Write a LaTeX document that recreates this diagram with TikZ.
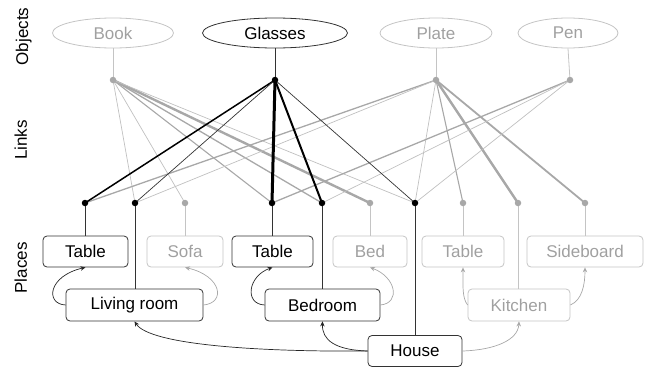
\documentclass[tikz,border=0pt]{standalone}
\usepackage{fontspec}
\setmainfont{Liberation Sans}
\usetikzlibrary{shapes.geometric,arrows.meta}
\definecolor{dkline}{HTML}{333333}
\definecolor{lt}{HTML}{C4C4C4}
\definecolor{lttext}{HTML}{A0A0A0}
\definecolor{md}{HTML}{A8A8A8}
\definecolor{ltl}{HTML}{C0C0C0}
\pgfdeclarelayer{bg}
\pgfsetlayers{bg,main}
\begin{document}
\begin{tikzpicture}[x=1pt,y=-1pt,
  font=\fontsize{17}{20}\selectfont,
  obj/.style={ellipse, draw, minimum height=30pt, inner sep=0pt, line width=0.8pt},
  place/.style={rectangle, rounded corners=4pt, draw, minimum height=31pt, inner sep=0pt, line width=0.8pt},
  dark/.style={draw=dkline, text=black},
  light/.style={draw=lt, text=lttext},
  bdot/.style={circle, fill=black, draw=none, inner sep=0pt, minimum size=6.5pt},
  gdot/.style={circle, fill=md, draw=none, inner sep=0pt, minimum size=6.5pt},
  lbl/.style={rotate=90, anchor=base, inner sep=0pt},
  lthin/.style={draw=ltl, line width=0.7pt},
  lmed/.style={draw=md, line width=1.3pt},
  lthick/.style={draw=md, line width=2.4pt},
  dthin/.style={draw=dkline, line width=0.7pt},
  stemd/.style={draw=dkline, line width=0.8pt},
  steml/.style={draw=lt, line width=0.8pt},
  arrd/.style={draw=black!85, line width=0.7pt, -{Stealth[length=5pt,width=4.5pt]}},
  arrl/.style={draw=md, line width=0.7pt, -{Stealth[length=5pt,width=4.5pt]}}
]
\useasboundingbox (0,0) rectangle (649,367);

% side labels
\node[lbl] (lobj) at (28,36.5) {Objects};
\node[lbl] (llink) at (27,140) {Links};
\node[lbl] (lplace) at (27,268) {Places};

% objects
\node[obj, light, minimum width=121pt] (book) at (113,33) {Book};
\node[obj, dark, minimum width=145pt] (glasses) at (275,33) {Glasses};
\node[obj, light, minimum width=112pt] (plate) at (436,33) {Plate};
\node[obj, light, minimum width=100pt] (pen) at (568,33) {Pen};

% top dots
\node[gdot] (db) at (113,80) {};
\node[bdot] (dg) at (275,80) {};
\node[gdot] (dp) at (436,80) {};
\node[gdot] (dn) at (570,80) {};

% bottom dots
\node[bdot] (d1) at (85,203) {};
\node[bdot] (d2) at (135,203) {};
\node[gdot] (d3) at (185,203) {};
\node[bdot] (d4) at (272,203) {};
\node[bdot] (d5) at (322,203) {};
\node[gdot] (d6) at (370,203) {};
\node[bdot] (d7) at (415,203) {};
\node[gdot] (d8) at (463,203) {};
\node[gdot] (d9) at (518,203) {};
\node[gdot] (d10) at (585,203) {};

% places
\node[place, dark, minimum width=85pt] (t1) at (85.5,251.5) {Table};
\node[place, light, minimum width=76pt] (sofa) at (185,251.5) {Sofa};
\node[place, dark, minimum width=81pt] (t2) at (272.5,251.5) {Table};
\node[place, light, minimum width=74pt] (bed) at (370,251.5) {Bed};
\node[place, light, minimum width=82pt] (t3) at (463,251.5) {Table};
\node[place, light, minimum width=116pt] (side) at (585,251.5) {Sideboard};
\node[place, dark, minimum width=137pt, minimum height=32pt] (lr) at (134.5,305) {Living room};
\node[place, dark, minimum width=115pt, minimum height=32pt] (br) at (322.5,305) {Bedroom};
\node[place, light, minimum width=102pt, minimum height=32pt] (kit) at (519,305) {Kitchen};
\node[place, dark, minimum width=94pt] (house) at (415,351) {House};

\begin{pgfonlayer}{bg}
% stems from objects
\draw[steml] (book.south) -- (db.center);
\draw[stemd] (glasses.south) -- (dg.center);
\draw[steml] (plate.south) -- (dp.center);
\draw[steml] (pen.south) -- (dn.center);

% Book links
\draw[lthin] (db.center) -- (d2.center);
\draw[lthin] (db.center) -- (d3.center);
\draw[draw=md, line width=1.1pt] (db.center) -- (d4.center);
\draw[lmed] (db.center) -- (d5.center);
\draw[lthick] (db.center) -- (d6.center);
\draw[lthin] (db.center) -- (d7.center);

% Plate links
\draw[lmed] (dp.center) -- (d1.center);
\draw[lthin] (dp.center) -- (d2.center);
\draw[lthin] (dp.center) -- (d7.center);
\draw[draw=md, line width=1.1pt] (dp.center) -- (d8.center);
\draw[lthick] (dp.center) -- (d9.center);
\draw[draw=md, line width=1.8pt] (dp.center) -- (d10.center);

% Pen links
\draw[lmed] (dn.center) -- (d4.center);
\draw[lthin] (dn.center) -- (d5.center);
\draw[lthin] (dn.center) -- (d7.center);

% Glasses links
\draw[draw=black, line width=1.5pt] (dg.center) -- (d1.center);
\draw[dthin] (dg.center) -- (d2.center);
\draw[draw=black, line width=3pt] (dg.center) -- (d4.center);
\draw[draw=black, line width=2pt] (dg.center) -- (d5.center);
\draw[dthin] (dg.center) -- (d7.center);

% stems to places
\draw[stemd] (d1.center) -- (d1 |- t1.north);
\draw[stemd] (d2.center) -- (d2 |- lr.north);
\draw[steml] (d3.center) -- (d3 |- sofa.north);
\draw[stemd] (d4.center) -- (d4 |- t2.north);
\draw[stemd] (d5.center) -- (d5 |- br.north);
\draw[steml] (d6.center) -- (d6 |- bed.north);
\draw[stemd] (d7.center) -- (d7 |- house.north);
\draw[steml] (d8.center) -- (d8 |- t3.north);
\draw[steml] (d9.center) -- (d9 |- kit.north);
\draw[steml] (d10.center) -- (d10 |- side.north);
\end{pgfonlayer}

% containment arrows
\draw[arrd] (lr.west) .. controls (45,304) and (48,276) .. (t1.south);
\draw[arrl] (lr.east) .. controls (226,303) and (222,276) .. (sofa.south);
\draw[arrd] (br.west) .. controls (244,304) and (248,276) .. (t2.south);
\draw[arrl] (br.east) .. controls (401,303) and (396,277) .. (bed.south);
\draw[arrl] (kit.west) .. controls (462,298) and (463,285) .. (t3.south);
\draw[arrl] (kit.east) .. controls (582,300) and (585,285) .. (side.south);
\draw[arrd] (house.west) .. controls (260,352) and (150,345) .. (lr.south);
\draw[arrd] (house.west) .. controls (335,350) and (322,340) .. (br.south);
\draw[arrl] (house.east) .. controls (495,350) and (518,340) .. (kit.south);
\end{tikzpicture}
\end{document}
